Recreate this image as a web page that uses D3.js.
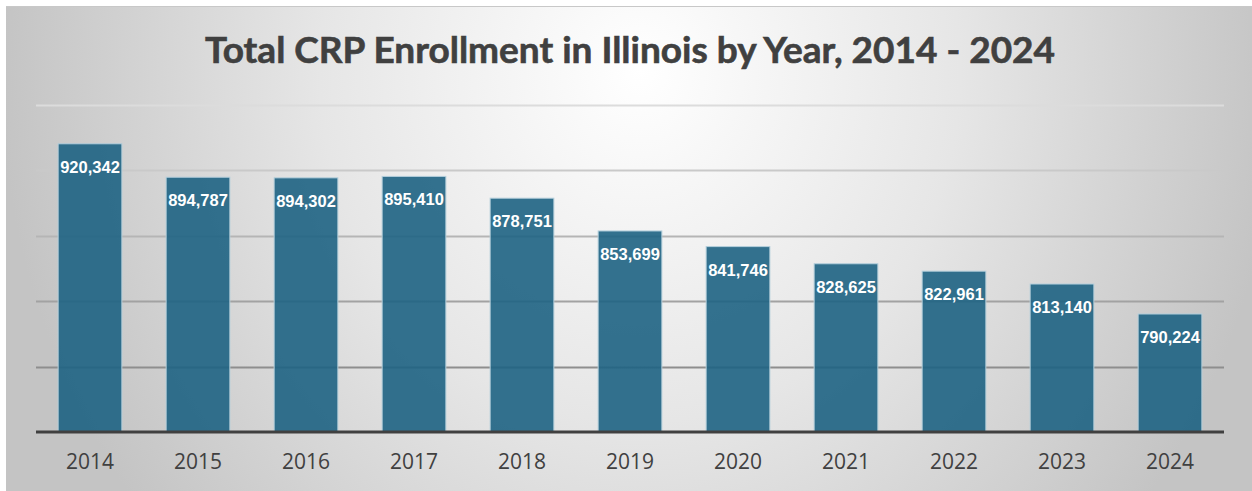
<!DOCTYPE html>
<html>
<head>
<meta charset="utf-8">
<script src="https://cdn.jsdelivr.net/npm/d3@7"></script>
<style>
  html, body { margin: 0; padding: 0; background: #fff; }
  svg { display: block; }
</style>
</head>
<body>
<svg id="chart" width="1252" height="491"></svg>
<script>
// Total CRP enrollment (acres) in Illinois, by year
const years = ["2014", "2015", "2016", "2017", "2018", "2019", "2020", "2021", "2022", "2023", "2024"];
const acres = [920342, 894787, 894302, 895410, 878751, 853699, 841746, 828625, 822961, 813140, 790224];
const gridValues = [750000, 800000, 850000, 900000, 950000];
const titleText = "Total CRP Enrollment in Illinois by Year, 2014 - 2024";

const W = 1252, H = 491;
const svg = d3.select("#chart");

// Background panel with soft radial shading
const defs = svg.append("defs");
const rg = defs.append("radialGradient")
  .attr("id", "bg").attr("gradientUnits", "userSpaceOnUse")
  .attr("cx", 640).attr("cy", 70).attr("r", 640)
  .attr("gradientTransform", "translate(640,70) scale(1,1.1) translate(-640,-70)");
rg.append("stop").attr("offset", "0%").attr("stop-color", "#ffffff");
rg.append("stop").attr("offset", "50%").attr("stop-color", "#e6e6e6");
rg.append("stop").attr("offset", "100%").attr("stop-color", "#c4c4c4");

svg.append("rect").attr("x", 6).attr("y", 6).attr("width", W - 6).attr("height", H - 6)
  .attr("fill", "url(#bg)");
svg.append("line").attr("x1", 6).attr("x2", W).attr("y1", 6.5).attr("y2", 6.5)
  .attr("stroke", "#c8c8c8").attr("stroke-width", 1);

const plot = { left: 36, right: 1224, top: 105, bottom: 432 };

const x = d3.scaleBand().domain(years).range([plot.left, plot.right]).paddingInner(0.41).paddingOuter(0.205);
const y = d3.scaleLinear().domain([700000, 950000]).range([plot.bottom, plot.top]);

// Gridlines, darker toward the baseline
const gridColor = d3.scaleLinear().domain([950000, 750000]).range(["#dcdcdc", "#8e8e8e"]);
svg.append("g").selectAll("line").data(gridValues).join("line")
  .attr("x1", plot.left).attr("x2", plot.right)
  .attr("y1", d => Math.round(y(d)) + 0.5).attr("y2", d => Math.round(y(d)) + 0.5)
  .attr("stroke", d => gridColor(d)).attr("stroke-width", 2);

// Bars
svg.append("g").selectAll("rect").data(years).join("rect")
  .attr("x", d => x(d)).attr("width", x.bandwidth())
  .attr("y", (d, i) => y(acres[i]))
  .attr("height", (d, i) => y(700000) - y(acres[i]))
  .attr("fill", "#1e6383").attr("fill-opacity", 0.9)
  .attr("stroke", "#b4cfdc").attr("stroke-width", 1);

// Value labels inside the bar tops
const fmt = d3.format(",");
svg.append("g").selectAll("text").data(years).join("text")
  .attr("x", d => x(d) + x.bandwidth() / 2)
  .attr("y", (d, i) => y(acres[i]) + 29)
  .attr("text-anchor", "middle")
  .attr("font-family", "'Liberation Sans', Arial, sans-serif")
  .attr("font-weight", "bold").attr("font-size", 16.5)
  .attr("fill", "#ffffff")
  .text((d, i) => fmt(acres[i]));

// Category axis
const xAxis = svg.append("g").attr("transform", `translate(0,${plot.bottom})`)
  .call(d3.axisBottom(x).tickSize(0).tickPadding(22));
xAxis.select(".domain").attr("stroke", "#404040").attr("stroke-width", 3)
  .attr("d", `M${plot.left},0H${plot.right}`);
xAxis.selectAll("text")
  .attr("font-family", "'Open Sans', sans-serif").attr("font-size", 21)
  .attr("fill", "#404040");

// Title
svg.append("text")
  .attr("x", 630).attr("y", 63)
  .attr("text-anchor", "middle")
  .attr("font-family", "Lato, sans-serif").attr("font-weight", "bold")
  .attr("font-size", 37).attr("fill", "#404040")
  .attr("stroke", "#404040").attr("stroke-width", 0.6)
  .text(titleText);
</script>
</body>
</html>
